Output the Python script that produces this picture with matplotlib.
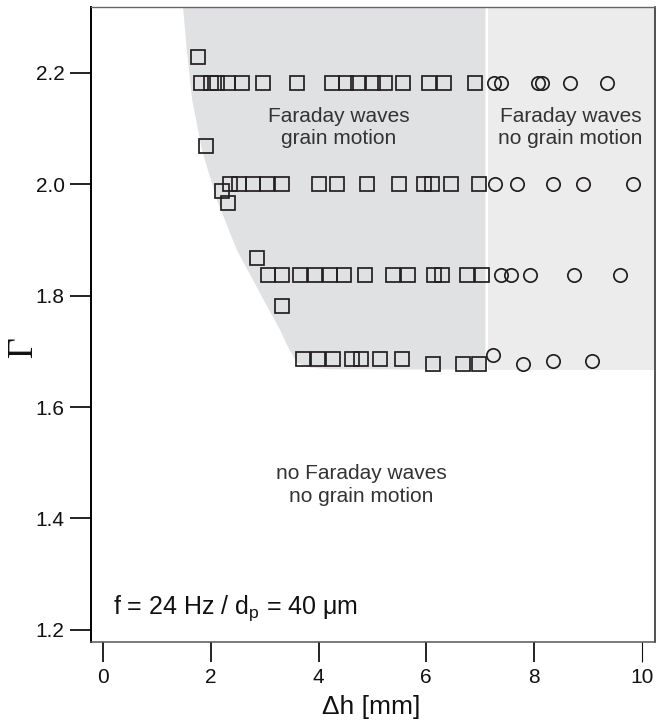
import matplotlib
matplotlib.use("Agg")
import matplotlib.pyplot as plt
from matplotlib.patches import Polygon

plt.rcParams['font.family'] = ['Liberation Sans', 'DejaVu Sans']
plt.rcParams['mathtext.fontset'] = 'custom'
plt.rcParams['mathtext.rm'] = 'Liberation Sans'
plt.rcParams['mathtext.it'] = 'Liberation Sans:italic'

# ---- data ----
squares_dh = [1.76, 1.91, 2.21, 2.32, 2.86, 3.31,
              1.81, 2.00, 2.11, 2.32, 2.58, 2.97, 3.60, 4.25, 4.51, 4.73, 5.01, 5.23, 5.57, 6.05, 6.33, 6.90,
              2.35, 2.52, 2.78, 3.04, 3.32, 4.01, 4.34, 4.90, 5.49, 5.96, 6.10, 6.46, 6.98,
              3.06, 3.32, 3.65, 3.93, 4.21, 4.47, 4.86, 5.38, 5.66, 6.14, 6.29, 6.75, 7.03,
              3.71, 3.99, 4.27, 4.62, 4.79, 5.14, 5.55, 6.12, 6.68, 6.98]
squares_gamma = [2.228, 2.068, 1.988, 1.966, 1.867, 1.781,
                 2.182, 2.182, 2.182, 2.182, 2.182, 2.182, 2.182, 2.182, 2.182, 2.182, 2.182, 2.182, 2.182, 2.182, 2.182, 2.182,
                 2.0, 2.0, 2.0, 2.0, 2.0, 2.0, 2.0, 2.0, 2.0, 2.0, 2.0, 2.0, 2.0,
                 1.838, 1.838, 1.838, 1.838, 1.838, 1.838, 1.838, 1.838, 1.838, 1.838, 1.838, 1.838, 1.838,
                 1.687, 1.687, 1.687, 1.687, 1.687, 1.687, 1.687, 1.677, 1.677, 1.677]
circles_dh = [7.26, 7.38, 8.07, 8.15, 8.67, 9.35,
              7.27, 7.68, 8.35, 8.91, 9.84,
              7.38, 7.57, 7.92, 8.74, 9.59,
              7.24, 7.79, 8.35, 9.07]
circles_gamma = [2.182, 2.182, 2.182, 2.182, 2.182, 2.182,
                 2.0, 2.0, 2.0, 2.0, 2.0,
                 1.838, 1.838, 1.838, 1.838, 1.838,
                 1.694, 1.677, 1.682, 1.682]

# boundary of the "grain motion" region (left curved edge)
boundary_dh = [1.48, 1.55, 1.65, 1.83, 2.11, 2.48, 2.98, 3.28, 3.41, 3.60, 3.85, 4.20]
boundary_gamma = [2.3185, 2.241, 2.152, 2.062, 1.972, 1.882, 1.792, 1.739, 1.712, 1.679, 1.671, 1.668]
motion_limit_dh = 7.10
nomotion_start_dh = 7.14
faraday_onset_gamma = 1.667

x_ticks = [0, 2, 4, 6, 8, 10]
y_ticks = [1.2, 1.4, 1.6, 1.8, 2.0, 2.2]
x_lim = (-0.23, 10.24)
y_lim = (1.178, 2.3185)

fig = plt.figure(figsize=(6.56, 7.22), dpi=100)
ax = fig.add_axes([91/656, 80/722, (654.5-91)/656, (642-7)/722])
ax.set_xlim(*x_lim)
ax.set_ylim(*y_lim)

# shaded regions
top = y_lim[1]
poly_pts = list(zip(boundary_dh, boundary_gamma)) + [(motion_limit_dh, faraday_onset_gamma), (motion_limit_dh, top)]
ax.add_patch(Polygon(poly_pts, closed=True, facecolor='#e0e1e3', edgecolor='none', zorder=0))
ax.fill_between([nomotion_start_dh, x_lim[1]], faraday_onset_gamma, top, color='#ececec', lw=0, zorder=0)

mk = dict(linestyle='none', markerfacecolor='none', markeredgecolor='#231f20', markersize=9.6, markeredgewidth=1.25, zorder=3)
ax.plot(squares_dh, squares_gamma, marker='s', **mk)
ax.plot(circles_dh, circles_gamma, marker='o', **mk)

txt_kw = dict(fontsize=15, color='#333333', ha='center', va='center', linespacing=1.25)
ax.text(4.38, 2.102, "Faraday waves\ngrain motion", **txt_kw)
ax.text(8.68, 2.102, "Faraday waves\nno grain motion", **txt_kw)
ax.text(4.79, 1.460, "no Faraday waves\nno grain motion", **txt_kw)
ax.text(0.18, 1.229, r"f = 24 Hz / d$_{\rm p}$ = 40 μm", fontsize=18, color='#111111', ha='left', va='baseline')

ax.set_xticks(x_ticks)
ax.set_yticks(y_ticks)
ax.set_xticklabels([str(v) for v in x_ticks])
ax.set_yticklabels([f"{v:.1f}" for v in y_ticks])
ax.tick_params(axis='both', direction='out', labelsize=15, colors='#111111', width=1.3)
ax.tick_params(axis='x', length=14.5, pad=4)
ax.tick_params(axis='y', length=15, pad=4)
ax.xaxis.get_major_ticks()[-1].tick1line.set_markeredgewidth(0.8)
ax.xaxis.get_major_ticks()[-1].tick1line.set_color('#555555')

for side, col, lw in [('left', '#000000', 1.4), ('right', '#222222', 1.1), ('top', '#666666', 1.0), ('bottom', '#555555', 1.1)]:
    ax.spines[side].set_color(col)
    ax.spines[side].set_linewidth(lw)

ax.set_xlabel("Δh [mm]", fontsize=19, color='#111111')
ax.xaxis.set_label_coords(0.497, -0.102)
ax.set_ylabel("Γ", fontsize=26, family=['Liberation Serif', 'DejaVu Serif'], color='#111111')
ax.yaxis.set_label_coords(-0.12, 0.465)
ax.xaxis.label.set_va('center')
ax.yaxis.label.set_va('center')

fig.savefig("out.png", dpi=100)
